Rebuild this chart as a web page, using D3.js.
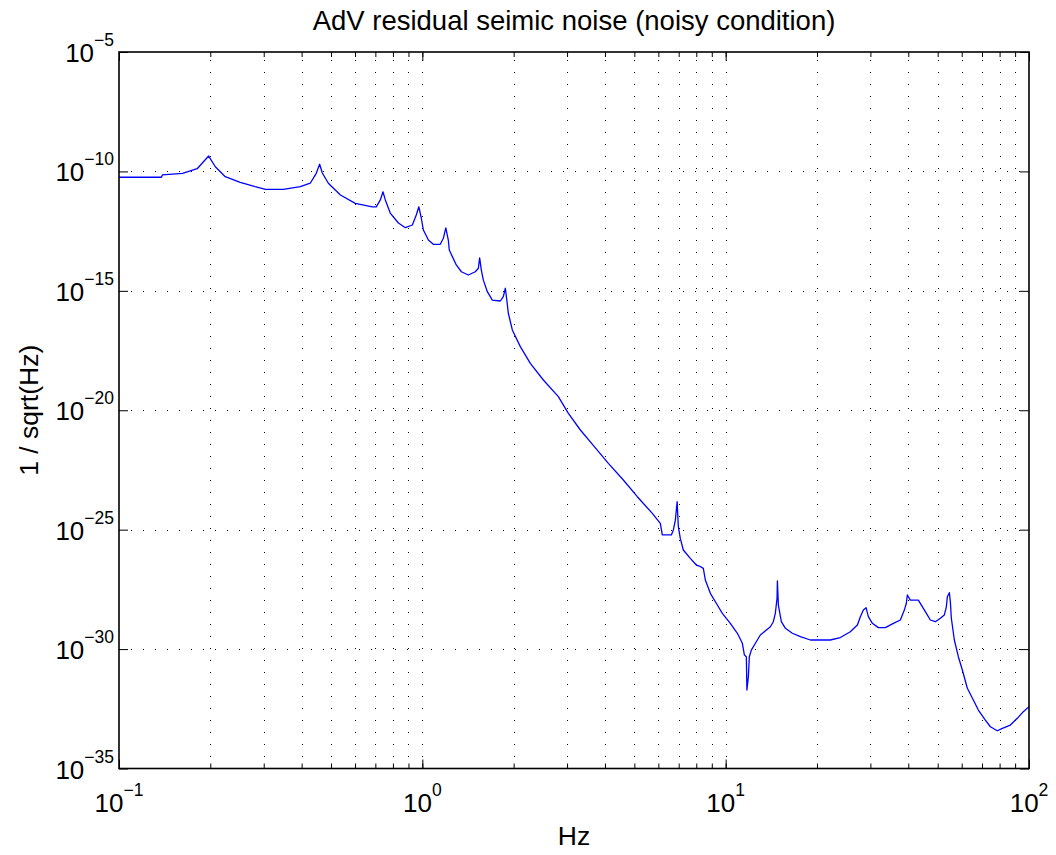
<!DOCTYPE html>
<html>
<head>
<meta charset="utf-8">
<script src="https://cdn.jsdelivr.net/npm/d3@7"></script>
<style>
  html, body { margin: 0; padding: 0; background: #fff; }
  svg text { font-family: "Liberation Sans", Arial, Helvetica, sans-serif; fill: #000; }
</style>
</head>
<body>
<svg id="chart" width="1056" height="855"></svg>
<script>
// ---- data ----
const titleText = "AdV residual seimic noise (noisy condition)";
const xLabel = "Hz";
const yLabel = "1 / sqrt(Hz)";
const xTickExps = [-1, 0, 1, 2];
const yTickExps = [-35, -30, -25, -20, -15, -10, -5];

const freq = [0.1, 0.138, 0.139, 0.162, 0.181, 0.1975, 0.2078, 0.224, 0.251, 0.281,
  0.304, 0.348, 0.396, 0.427, 0.447, 0.4586, 0.468, 0.490, 0.537, 0.601,
  0.684, 0.705, 0.727, 0.742, 0.755, 0.784, 0.834, 0.879, 0.927, 0.955,
  0.974, 0.992, 1.008, 1.047, 1.087, 1.146, 1.173, 1.195, 1.218, 1.227,
  1.256, 1.294, 1.345, 1.418, 1.495, 1.530, 1.545, 1.565, 1.589, 1.638,
  1.701, 1.808, 1.849, 1.878, 1.899, 1.921, 1.980, 2.104, 2.270, 2.506,
  2.808, 3.030, 3.319, 3.690, 4.105, 4.599, 5.114, 5.731, 6.089, 6.182,
  6.622, 6.723, 6.826, 6.918, 6.982, 7.087, 7.251, 7.647, 8.003, 8.188,
  8.440, 8.570, 8.902, 9.387, 9.75, 10.36, 10.93, 11.35, 11.53, 11.70,
  11.75, 11.88, 11.97, 12.15, 12.53, 13.01, 14.04, 14.36, 14.58, 14.77,
  14.81, 14.92, 15.26, 15.74, 16.59, 17.63, 19.02, 22.13, 23.88, 25.76,
  27.18, 27.80, 28.44, 29.03, 29.54, 30.45, 31.87, 33.61, 35.72, 37.66,
  38.82, 39.41, 39.71, 40.62, 43.17, 45.53, 47.29, 49.12, 51.02, 52.59,
  53.40, 53.81, 54.63, 55.05, 55.46, 56.74, 58.49, 60.29, 62.62, 65.53,
  68.08, 71.8, 74.6, 78.6, 81.7, 86.8, 91.5, 95.8, 100];

const noise = [5.7e-11, 5.7e-11, 7.1e-11, 8.3e-11, 1.3e-10, 4.4e-10, 1.57e-10, 6.0e-11, 3.5e-11, 2.3e-11,
  1.78e-11, 1.78e-11, 2.3e-11, 3.2e-11, 8.3e-11, 2.0e-10, 8.6e-11, 3.2e-11, 1.03e-11, 4.6e-12,
  3.3e-12, 3.3e-12, 6.4e-12, 1.4e-11, 6.4e-12, 1.8e-12, 6.9e-13, 4.4e-13, 5.7e-13, 1.5e-12,
  3.3e-12, 1.12e-12, 3.5e-13, 1.34e-13, 8.9e-14, 8.9e-14, 1.58e-13, 4.3e-13, 1.34e-13, 5.1e-14,
  2.7e-14, 1.21e-14, 6.3e-15, 4.6e-15, 6.3e-15, 8.8e-15, 2.4e-14, 7.4e-15, 2.8e-15, 9.2e-16,
  4.1e-16, 3.75e-16, 5.7e-16, 1.28e-15, 4.1e-16, 1.15e-16, 2.3e-17, 4.6e-18, 9.2e-19, 1.85e-19,
  3.7e-20, 7.4e-21, 1.49e-21, 2.98e-22, 6.0e-23, 1.2e-23, 2.4e-24, 4.8e-25, 1.85e-25, 6.0e-26,
  6.0e-26, 9.7e-26, 2.5e-25, 1.48e-24, 1.33e-25, 4.3e-26, 1.41e-26, 6.3e-27, 3.3e-27, 3.0e-27,
  2.4e-27, 7.8e-28, 2.16e-28, 7.0e-29, 3.15e-29, 1.2e-29, 4.6e-30, 1.75e-30, 5.6e-31, 4.8e-31,
  1.94e-32, 7.0e-32, 4.8e-31, 9.1e-31, 1.75e-30, 3.9e-30, 8.6e-30, 1.4e-29, 3.15e-29, 1.34e-28,
  7.1e-28, 7.0e-29, 1.4e-29, 7.4e-30, 4.6e-30, 3.3e-30, 2.4e-30, 2.4e-30, 3.05e-30, 5.3e-30,
  1.02e-29, 2.27e-29, 4.3e-29, 5.4e-29, 2.27e-29, 1.2e-29, 7.9e-30, 7.9e-30, 1.2e-29, 1.65e-29,
  4.3e-29, 8.3e-29, 1.84e-28, 1.13e-28, 1.13e-28, 3.7e-29, 1.65e-29, 1.4e-29, 1.95e-29, 2.7e-29,
  5.9e-29, 1.56e-28, 2.3e-28, 9.6e-29, 1.95e-29, 2.4e-30, 4.8e-31, 1.33e-31, 2.3e-32, 7.4e-33,
  2.8e-33, 1.07e-33, 5.6e-34, 3.8e-34, 4.8e-34, 6.6e-34, 1.26e-33, 2.4e-33, 3.9e-33];

// ---- layout ----
const svg = d3.select("#chart");
const margin = { left: 119, right: 1056 - 1029, top: 52, bottom: 855 - 768.5 };
const W = 1056, H = 855;
const x = d3.scaleLog().domain([0.1, 100]).range([margin.left, W - margin.right]);
const y = d3.scaleLog().domain([1e-35, 1e-5]).range([H - margin.bottom, margin.top]);
const x0 = x.range()[0], x1 = x.range()[1], y0 = y.range()[0], y1 = y.range()[1];

const ink = "#000";

// grid: x at all 1..9 x decades, y at major ticks
const xGrid = [];
for (let e = -1; e < 2; e++) for (let m = 1; m <= 9; m++) {
  const v = m * Math.pow(10, e);
  if (v > 0.1 && v < 100) xGrid.push(v);
}
const yMajor = yTickExps.map(e => Math.pow(10, e));

const grid = svg.append("g").attr("stroke", ink).attr("stroke-width", 1)
  .attr("stroke-dasharray", "1,11").attr("shape-rendering", "crispEdges");
grid.selectAll("line.gx").data(xGrid).join("line").attr("class", "gx")
  .attr("x1", d => Math.round(x(d)) + 0.5).attr("x2", d => Math.round(x(d)) + 0.5)
  .attr("y1", y0).attr("y2", y1);
grid.selectAll("line.gy").data(yMajor.filter(v => v > 1e-35 && v < 1e-5)).join("line").attr("class", "gy")
  .attr("y1", d => Math.round(y(d)) + 0.5).attr("y2", d => Math.round(y(d)) + 0.5)
  .attr("x1", x0).attr("x2", x1);

// data line
const line = d3.line().x((d, i) => x(freq[i])).y((d, i) => y(noise[i]));
svg.append("path").datum(noise).attr("d", line)
  .attr("fill", "none").attr("stroke", "#0000ff").attr("stroke-width", 1.3)
  .attr("stroke-linejoin", "round");

// axes via d3 axis generators (ticks drawn inside)
const xMajorVals = xTickExps.map(e => Math.pow(10, e));
const axB = d3.axisBottom(x).tickValues(xMajorVals).tickSizeInner(-9).tickSizeOuter(0).tickFormat("");
const axBm = d3.axisBottom(x).tickValues(xGrid).tickSizeInner(-5).tickSizeOuter(0).tickFormat("");
const axT = d3.axisTop(x).tickValues(xMajorVals).tickSizeInner(-9).tickSizeOuter(0).tickFormat("");
const axTm = d3.axisTop(x).tickValues(xGrid).tickSizeInner(-5).tickSizeOuter(0).tickFormat("");
const axL = d3.axisLeft(y).tickValues(yMajor).tickSizeInner(-9).tickSizeOuter(0).tickFormat("");
const axR = d3.axisRight(y).tickValues(yMajor).tickSizeInner(-9).tickSizeOuter(0).tickFormat("");

function styleAxis(g) {
  g.select(".domain").remove();
  g.selectAll(".tick line").attr("stroke", ink).attr("stroke-width", 1);
}
svg.append("g").attr("transform", `translate(0,${y0})`).call(axB).call(styleAxis);
svg.append("g").attr("transform", `translate(0,${y0})`).call(axBm).call(styleAxis);
svg.append("g").attr("transform", `translate(0,${y1})`).call(axT).call(styleAxis);
svg.append("g").attr("transform", `translate(0,${y1})`).call(axTm).call(styleAxis);
svg.append("g").attr("transform", `translate(${x0},0)`).call(axL).call(styleAxis);
svg.append("g").attr("transform", `translate(${x1},0)`).call(axR).call(styleAxis);

// box
svg.append("rect").attr("x", x0).attr("y", y1).attr("width", x1 - x0).attr("height", y0 - y1)
  .attr("fill", "none").attr("stroke", ink).attr("stroke-width", 1.6);

// tick labels
const fsMain = 26, fsSup = 17.5;
function expLabel(sel, e) {
  sel.append("tspan").attr("font-size", fsMain).text("10");
  sel.append("tspan").attr("font-size", fsSup).attr("dy", -16)
    .text(e < 0 ? "\u2212" + Math.abs(e) : String(e));
}
svg.append("g").selectAll("text").data(yTickExps).join("text")
  .attr("x", x0 - 5).attr("y", d => y(Math.pow(10, d)) + 10)
  .attr("text-anchor", "end")
  .each(function(d) { expLabel(d3.select(this), d); });
svg.append("g").selectAll("text").data(xTickExps).join("text")
  .attr("x", d => x(Math.pow(10, d))).attr("y", y0 + 43)
  .attr("text-anchor", "middle")
  .each(function(d) { expLabel(d3.select(this), d); });

// title and axis labels
svg.append("text").attr("x", (x0 + x1) / 2).attr("y", 30).attr("text-anchor", "middle")
  .attr("font-size", 27.5).text(titleText);
svg.append("text").attr("x", (x0 + x1) / 2).attr("y", 845).attr("text-anchor", "middle")
  .attr("font-size", 26.5).text(xLabel);
svg.append("text").attr("transform", `translate(38,${(y0 + y1) / 2}) rotate(-90)`)
  .attr("text-anchor", "middle").attr("font-size", 26.5).text(yLabel);
</script>
</body>
</html>
